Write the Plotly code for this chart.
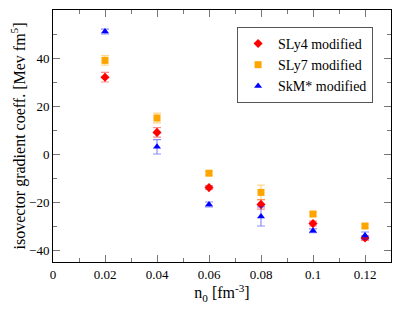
import plotly.graph_objects as go

n0 = [0.02, 0.04, 0.06, 0.08, 0.10, 0.12]
sly4 = [32, 9, -14, -21, -29, -35]
sly4_err = [2, 2, 0.8, 2, 1, 1]
sly7 = [39, 15, -8, -16, -25, -30]
sly7_err = [2, 2, 0.8, 3, 0.8, 0.8]
skm = [51, 3, -21, -26, -32, -34]
skm_err = [1, 3, 1, 4, 0.8, 1.5]

font = "Liberation Serif"

fig = go.Figure()
series = [
    ("SLy4 modified", sly4, sly4_err, "red", "rgba(255,0,0,0.45)", "diamond"),
    ("SLy7 modified", sly7, sly7_err, "orange", "rgba(255,165,0,0.45)", "square"),
    ("SkM* modified", skm, skm_err, "blue", "rgba(0,0,255,0.45)", "triangle-up"),
]
for name, y, e, c, ec, sym in series:
    fig.add_trace(go.Scatter(
        x=n0, y=y, mode="markers", name=name,
        marker=dict(color=c, symbol=sym, size=7),
        error_y=dict(type="data", array=e, color=ec, thickness=1.2, width=4),
    ))

# the page body adds an 8px offset; compensate so the plot lands where the reference has it
fig.update_layout(
    width=407, height=301,
    margin=dict(l=45, r=24, t=2, b=47),
    paper_bgcolor="white", plot_bgcolor="white",
    font=dict(family=font, size=13, color="black"),
    showlegend=True,
    legend=dict(x=0.947, y=0.933, xanchor="right", yanchor="top",
                bordercolor="#555", borderwidth=1, bgcolor="white",
                font=dict(family=font, size=14), itemwidth=30, tracegroupgap=0),
    xaxis=dict(
        range=[0, 0.13], tickvals=[0, 0.02, 0.04, 0.06, 0.08, 0.10, 0.12],
        ticktext=["0", "0.02", "0.04", "0.06", "0.08", "0.1", "0.12"],
        ticks="inside", ticklen=7, tickcolor="#777", mirror="allticks",
        showline=True, linecolor="black", linewidth=1, showgrid=False, zeroline=False,
        automargin=False,
        minor=dict(dtick=0.01, tick0=0, ticks="inside", ticklen=4, tickcolor="#777"),
        title=dict(text="n<sub>0</sub> [fm<sup>-3</sup>]", font=dict(size=16), standoff=2),
    ),
    yaxis=dict(
        range=[-45, 60], tickvals=[-40, -20, 0, 20, 40, 60],
        ticks="inside", ticklen=7, tickcolor="#777", mirror="allticks",
        showline=True, linecolor="black", linewidth=1, showgrid=False, zeroline=False,
        automargin=False,
        minor=dict(dtick=10, tick0=0, ticks="inside", ticklen=4, tickcolor="#777"),
        title=dict(text="isovector gradient coeff. [Mev fm<sup>5</sup>]", font=dict(size=16), standoff=5),
    ),
)

fig.write_html("out.html")
